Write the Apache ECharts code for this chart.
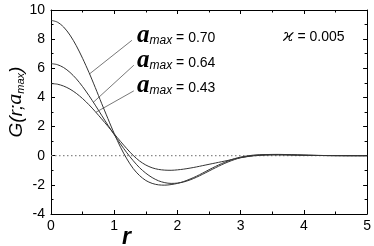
<!DOCTYPE html>
<html><head><meta charset="utf-8">
<script src="https://cdn.jsdelivr.net/npm/echarts@6/dist/echarts.min.js"></script>
<style>html,body{margin:0;padding:0;background:#fff}#c{width:374px;height:246px}</style>
</head><body><div id="c"></div>
<script>
var rValues = [0,0.1,0.2,0.3,0.4,0.5,0.6,0.7,0.8,0.9,1.0,1.1,1.2,1.3,1.4,1.5,1.6,1.7,1.8,1.9,2.0,2.1,2.2,2.3,2.4,2.5,2.6,2.7,2.8,2.9,3.0,3.2,3.4,3.6,3.8,4.0,4.3,4.6,5.0];
var g070 = [9.29,9.17,8.83,8.28,7.55,6.68,5.72,4.68,3.6,2.55,1.52,0.58,-0.22,-0.88,-1.36,-1.7,-1.9,-2.0,-2.02,-1.98,-1.9,-1.77,-1.6,-1.41,-1.19,-0.96,-0.74,-0.54,-0.36,-0.21,-0.09,0.04,0.08,0.09,0.07,0.04,0.015,0.003,0];
var g064 = [6.32,6.25,6.05,5.72,5.28,4.74,4.13,3.47,2.78,2.1,1.44,0.8,0.2,-0.34,-0.82,-1.2,-1.5,-1.72,-1.85,-1.9,-1.88,-1.8,-1.66,-1.48,-1.27,-1.05,-0.83,-0.62,-0.43,-0.27,-0.14,0.01,0.07,0.08,0.065,0.04,0.015,0.003,0];
var g043 = [4.95,4.91,4.78,4.57,4.28,3.92,3.5,3.03,2.53,2.02,1.5,0.98,0.48,0.02,-0.36,-0.64,-0.83,-0.94,-0.99,-1.0,-0.97,-0.92,-0.85,-0.77,-0.68,-0.59,-0.5,-0.41,-0.32,-0.22,-0.13,-0.01,0.04,0.05,0.04,0.03,0.01,0.002,0];
var labels = ['0.70','0.64','0.43'];
var leaderFrom = [[1.28,7.92],[1.31,6.21],[1.31,4.45]];
var leaderAtR = [0.61,0.67,0.71];

function pairs(ys){return rValues.map(function(r,i){return [r,ys[i]];});}
function interp(ys,r){
  for(var i=0;i<rValues.length-1;i++){
    if(r>=rValues[i]&&r<=rValues[i+1]){
      var t=(r-rValues[i])/(rValues[i+1]-rValues[i]);
      return ys[i]+t*(ys[i+1]-ys[i]);
    }
  }
  return ys[ys.length-1];
}
var allSeries=[g070,g064,g043];
var chart = echarts.init(document.getElementById('c'));
function axisCommon(){ return {
  axisLine:{show:true,onZero:false,lineStyle:{color:'#000',width:1}},
  axisTick:{show:true,inside:true,length:4,lineStyle:{color:'#000'}},
  minorTick:{show:true,splitNumber:2,length:2.5,lineStyle:{color:'#000'}},
  splitLine:{show:false}
};}
var series=[];
allSeries.forEach(function(ys,k){
  series.push({type:'line',data:pairs(ys),smooth:0.3,symbol:'none',
    lineStyle:{color:'#333',width:1},z:3});
  var p0=leaderFrom[k];
  series.push({type:'line',data:[p0,[leaderAtR[k],interp(ys,leaderAtR[k])]],symbol:'none',
    lineStyle:{color:'#555',width:0.8},z:2});
});
series.push({type:'line',data:[[0,0],[5,0]],symbol:'none',lineStyle:{color:'#888',width:1.2,type:[1.5,2.5]},z:1});

var labelRich = {
  a:{fontFamily:'Liberation Serif',fontStyle:'italic',fontWeight:'bold',fontSize:25,color:'#000',verticalAlign:'bottom'},
  s:{fontFamily:'Liberation Sans',fontStyle:'italic',fontSize:12,color:'#000',verticalAlign:'bottom',padding:[0,0,1,0]},
  t:{fontFamily:'Liberation Sans',fontSize:14,color:'#000',verticalAlign:'bottom',padding:[0,0,3,0]}
};
var graphics = labels.map(function(l,k){
  return {type:'text',x:137,y:[48,73,98][k],
    style:{text:'{a|a}{s|max}{t| = '+l+'}',rich:labelRich,verticalAlign:'bottom'}};
});
graphics.push({type:'text',x:283,y:48,style:{text:'{k|ϰ}{t| = 0.005}',verticalAlign:'bottom',rich:{
  k:{fontFamily:'DejaVu Serif',fontStyle:'italic',fontSize:17,color:'#000',verticalAlign:'bottom',padding:[0,0,3,0]},
  t:{fontFamily:'Liberation Sans',fontSize:14,color:'#000',verticalAlign:'bottom',padding:[0,0,4,0]}}}});
graphics.push({type:'text',x:15,y:102,rotation:Math.PI/2,style:{
  text:'{g|G(r;}{a|a}{s|max}{g|)}',align:'center',verticalAlign:'middle',rich:{
    g:{fontFamily:'Liberation Sans',fontStyle:'italic',fontSize:19,color:'#000',verticalAlign:'bottom'},
    a:{fontFamily:'Liberation Serif',fontStyle:'italic',fontSize:22,color:'#000',verticalAlign:'bottom'},
    s:{fontFamily:'Liberation Sans',fontStyle:'italic',fontSize:11,color:'#000',verticalAlign:'bottom'}}}});
graphics.push({type:'text',x:122,y:226,style:{text:'r',fontFamily:'Liberation Sans',fontStyle:'italic',fontWeight:'bold',fontSize:23,fill:'#000'}});

chart.setOption({
  animation:false,
  grid:{left:51,right:4,top:10,bottom:32},
  xAxis:[
    Object.assign({type:'value',min:0,max:5,interval:1,position:'bottom',
      axisLabel:{color:'#000',fontFamily:'Liberation Sans',fontSize:14,margin:5}},axisCommon()),
    Object.assign({type:'value',min:0,max:5,interval:1,position:'top',axisLabel:{show:false}},axisCommon())
  ],
  yAxis:[
    Object.assign({type:'value',min:-4,max:10,interval:2,position:'left',
      axisLabel:{color:'#000',fontFamily:'Liberation Sans',fontSize:14,margin:6}},axisCommon()),
    Object.assign({type:'value',min:-4,max:10,interval:2,position:'right',axisLabel:{show:false}},axisCommon())
  ],
  series:series,
  graphic:graphics
});
</script></body></html>
